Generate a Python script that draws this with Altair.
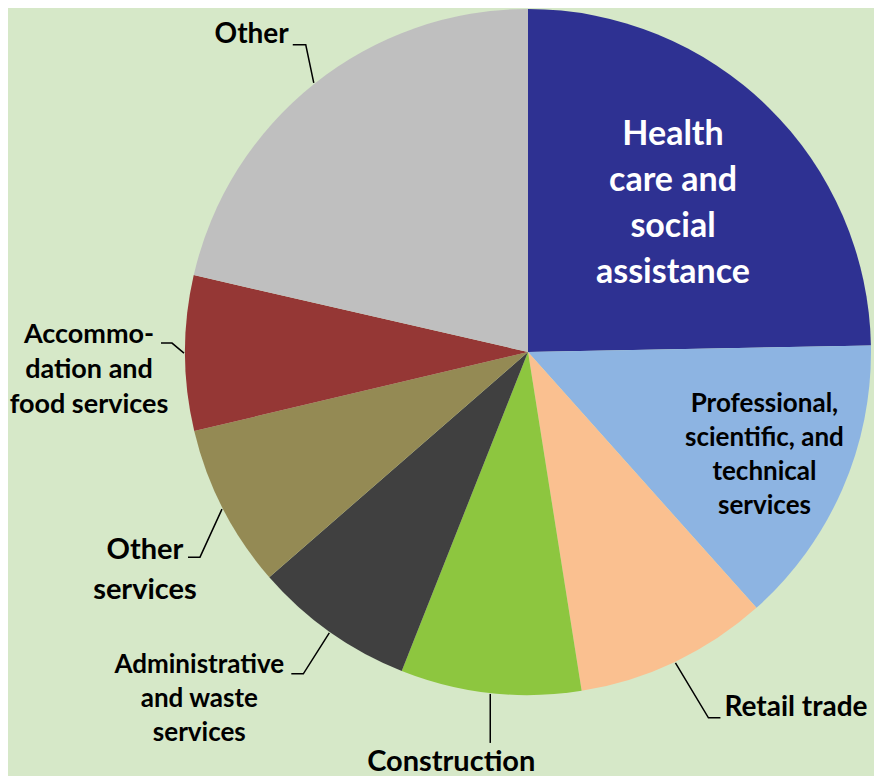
import math
import altair as alt
import pandas as pd

# ---------------- data ----------------
categories = [
    "Health care and social assistance",
    "Professional, scientific, and technical services",
    "Retail trade",
    "Construction",
    "Administrative and waste services",
    "Other services",
    "Accommodation and food services",
    "Other",
]
shares = [24.7, 13.7, 9.1, 8.5, 7.6, 7.7, 7.3, 21.4]
colors = ["#2e3192", "#8db4e2", "#fac090", "#8dc63f", "#404040", "#948a54", "#953735", "#bfbfbf"]
label_lines = [
    ["Health", "care and", "social", "assistance"],
    ["Professional,", "scientific, and", "technical", "services"],
    ["Retail trade"],
    ["Construction"],
    ["Administrative", "and waste", "services"],
    ["Other", "services"],
    ["Accommo-", "dation and", "food services"],
    ["Other"],
]

# ---------------- layout ----------------
W, H = 866, 768
CX, CY, R = 520, 344, 343
FONT = "Lato"

# inside labels: radius, font size, line height, colour
inside = {0: (207, 34, 46, "white"), 1: (258, 26, 34, "black")}
# outside labels: elbow dx, elbow dy, tail, label dx, label dy, align, font size, line height
outside = {
    2: (33, 55, 12, 4, -10, "left", 28, 36),
    3: (0, 49, 0, -39, 19, "center", 29, 36),
    4: (-26, 41, -12, -92, 25, "center", 26, 34),
    5: (-22, 48, -12, -43, 13, "center", 29, 40),
    6: (-12, -10, -11, -72, 27, "center", 27, 35),
    7: (-8, -38, -13, -4, -10, "right", 28, 36),
}

total = sum(shares)
starts, acc = [], 0.0
for s in shares:
    starts.append(acc)
    acc += s
mids = [(st + s / 2) / total * 2 * math.pi for st, s in zip(starts, shares)]

pie_df = pd.DataFrame({"cat": categories, "share": shares, "idx": list(range(len(categories)))})

line_rows, text_rows = [], []
for i, cat in enumerate(categories):
    a = mids[i]
    n = len(label_lines[i])
    if i in inside:
        rad, fs, lh, col = inside[i]
        tx, ty = CX + rad * math.sin(a), CY - rad * math.cos(a)
        align = "center"
    else:
        edx, edy, tail, ldx, ldy, align, fs, lh = outside[i]
        x0, y0 = CX + (R + 1) * math.sin(a), CY - (R + 1) * math.cos(a)
        x1, y1 = x0 + edx, y0 + edy
        x2, y2 = x1 + tail, y1
        for k, (px, py) in enumerate([(x0, y0), (x1, y1), (x2, y2)]):
            line_rows.append(dict(cat=cat, step=k, x=px, y=py))
        tx, ty = x2 + ldx, y2 + ldy
        col = "black"
    # first line is drawn at y: shift so the block is centred on ty
    ty -= (n - 1) * lh / 2
    text_rows.append(dict(cat=cat, x=tx, y=ty, label="\n".join(label_lines[i]),
                          fs=fs, lh=lh, col=col, align=align))

lines_df = pd.DataFrame(line_rows)
text_df = pd.DataFrame(text_rows)

xs = alt.X("x:Q", scale=alt.Scale(domain=[0, W], nice=False, zero=False), axis=None)
ys = alt.Y("y:Q", scale=alt.Scale(domain=[H, 0], nice=False, zero=False), axis=None)

pie = alt.Chart(pie_df).mark_arc(radius=R, stroke=None).encode(
    theta=alt.Theta("share:Q", stack=True),
    color=alt.Color("cat:N", scale=alt.Scale(domain=categories, range=colors), legend=None),
    order=alt.Order("idx:Q"),
    x=alt.value(CX),
    y=alt.value(CY),
)

leaders = alt.Chart(lines_df).mark_line(color="black", strokeWidth=1.5).encode(
    x=xs, y=ys, detail="cat:N", order="step:Q"
)

layers = [pie, leaders]
for (align, lh), grp in text_df.groupby(["align", "lh"]):
    layers.append(
        alt.Chart(grp).mark_text(align=align, baseline="middle", lineBreak="\n", lineHeight=int(lh),
                                 font=FONT, fontWeight="bold").encode(
            x=xs, y=ys, text="label:N",
            size=alt.Size("fs:Q", scale=None, legend=None),
            color=alt.Color("col:N", scale=None, legend=None),
        )
    )

chart = alt.layer(*layers).resolve_scale(color="independent", size="independent").properties(
    width=W, height=H, padding=0, autosize="none"
).configure(background="#d6e8c8").configure_view(stroke=None)

chart.save("out.html", embed_options={"renderer": "svg", "actions": False})
